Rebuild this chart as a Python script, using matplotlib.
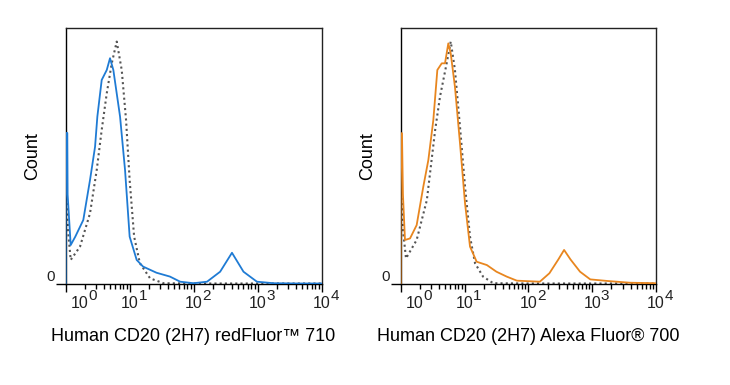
import numpy as np
import matplotlib
matplotlib.use("Agg")
import matplotlib.pyplot as plt
import matplotlib.transforms as mtransforms

plt.rcParams['font.family'] = ['Liberation Sans', 'DejaVu Sans']

# ---- data (log10 fluorescence, relative count 0-100) ----
left_stain_logx = [0.0, 0.0, 0.025, 0.03, 0.078, 0.15, 0.275, 0.38, 0.459, 0.495, 0.563, 0.642, 0.693,
                   0.745, 0.85, 0.928, 1.0, 1.11, 1.21, 1.42, 1.63, 1.79, 2.0, 2.21, 2.415,
                   2.6, 2.78, 2.99, 3.25, 3.6, 4.0]
left_stain_cnt = [0, 59, 59, 35, 15.2, 18.5, 25, 40.6, 53.6, 65.4, 79.7, 83.6, 88.2,
                  83.6, 65.4, 44.5, 18.5, 9.4, 6.8, 4.4, 2.9, 0.9, 0.3, 0.9, 4.8,
                  12.2, 4.8, 0.9, 0.3, 0.2, 0.2]
left_iso_logx = [0.0, 0.0, 0.01, 0.04, 0.078, 0.224, 0.38, 0.485, 0.563, 0.642, 0.72, 0.798,
                 0.876, 0.944, 1.0, 1.07, 1.16, 1.32, 1.53, 2.0, 3.0, 4.0]
left_iso_cnt = [0, 35, 35, 20, 9.4, 14.6, 27.6, 44.5, 60.2, 74.5, 86.2, 94.7,
                83.6, 64, 40.6, 18.5, 8.1, 2.2, 0.3, 0.2, 0.2, 0.2]

right_stain_logx = [0.0, 0.0, 0.02, 0.035, 0.067, 0.146, 0.25, 0.354, 0.433, 0.511, 0.574, 0.643,
                    0.694, 0.746, 0.784, 0.85, 0.929, 1.008, 1.086, 1.19, 1.35, 1.5, 1.66,
                    1.82, 2.18, 2.33, 2.47, 2.56, 2.66, 2.81, 2.97, 3.23, 3.59, 4.0]
right_stain_cnt = [0, 58.9, 58.9, 35, 17.2, 17.8, 23, 38, 48.4, 64, 83.6, 86.2,
                   86.2, 94, 90, 77, 55, 31.5, 14.6, 8.7, 7.4, 4.8, 2.9,
                   1.3, 0.9, 4.2, 9.6, 13.3, 9.6, 4.8, 1.8, 1.2, 0.5, 0.3]
right_iso_logx = [0.0, 0.0, 0.01, 0.04, 0.083, 0.25, 0.41, 0.54, 0.616, 0.72, 0.784, 0.85,
                  0.929, 1.008, 1.086, 1.165, 1.29, 1.45, 2.0, 3.0, 4.0]
right_iso_cnt = [0, 35, 35, 20, 10, 17.2, 32.8, 60.2, 73.2, 86.2, 94.7, 83.6,
                 61.4, 38, 18.5, 8.1, 2.9, 0.3, 0.2, 0.2, 0.2]

decades = [0, 1, 2, 3, 4]
xlabels = ["Human CD20 (2H7) redFluor\u2122 710", "Human CD20 (2H7) Alexa Fluor\u00ae 700"]
stain_colors = ["#1f7bd4", "#e8861f"]
iso_color = "#555555"

fig = plt.figure(figsize=(7.3, 3.85), dpi=100)
axes_rects = [[65.7 / 730, 101 / 385, 255.8 / 730, 256 / 385],
              [400.7 / 730, 101 / 385, 255.3 / 730, 256 / 385]]
panels = [(left_stain_logx, left_stain_cnt, left_iso_logx, left_iso_cnt),
          (right_stain_logx, right_stain_cnt, right_iso_logx, right_iso_cnt)]

for i, (rect, (sx, sy, ix, iy)) in enumerate(zip(axes_rects, panels)):
    ax = fig.add_axes(rect)
    sxv = 10 ** np.array(sx)
    ixv = 10 ** np.array(ix)
    ax.plot(ixv, iy, color=iso_color, lw=1.5, ls=(0, (1, 1.5)), zorder=2)
    ax.plot(sxv, sy, color=stain_colors[i], lw=1.3, zorder=3)
    ax.set_xscale('log')
    ax.set_xlim(10 ** 0, 10 ** 4)
    ax.set_ylim(0, 100)
    for s in ax.spines.values():
        s.set_linewidth(1.0)
        s.set_color('#222222')
    ax.spines['left'].set_color('black')
    ax.spines['bottom'].set_color('black')
    ax.set_xticks([10 ** d for d in decades])
    ax.set_xticklabels([])
    ax.xaxis.set_minor_locator(matplotlib.ticker.LogLocator(base=10, subs=np.arange(2, 10)))
    ax.xaxis.set_minor_formatter(matplotlib.ticker.NullFormatter())
    ax.tick_params(axis='x', which='major', length=6, width=1, direction='out', color='black')
    ax.tick_params(axis='x', which='minor', length=3.5, width=1, direction='out', color='black')
    ax.set_yticks([0])
    ax.set_yticklabels([])
    ax.tick_params(axis='y', length=7, width=1, direction='out', color='black')
    # y '0' label
    ax.text(-0.058, 0, "0", transform=ax.get_yaxis_transform(), ha='center', va='bottom',
            fontsize=11, color='#222222')
    # decade labels 10^n
    trans = mtransforms.blended_transform_factory(ax.transData, ax.transAxes)
    for d in decades:
        off = mtransforms.ScaledTranslation(14 / 100 if d == 0 else 0, 0, fig.dpi_scale_trans)
        ax.text(10 ** d, -0.076, "10", transform=trans + off, ha='center', va='center',
                fontsize=11.5, color='#222222')
        off2 = mtransforms.ScaledTranslation((14 + 13) / 100 if d == 0 else 13 / 100, 0,
                                             fig.dpi_scale_trans)
        ax.text(10 ** d, -0.046, str(d), transform=trans + off2, ha='center', va='center',
                fontsize=11, color='#222222')
    ax.text(0.5, -0.207, xlabels[i], transform=ax.transAxes, ha='center', va='center',
            fontsize=13, color='black')
    ax.text(-0.13, 0.5, "Count", transform=ax.transAxes, ha='center', va='center',
            rotation=90, fontsize=13, color='black')

fig.savefig("out.png", dpi=100, facecolor='white')
